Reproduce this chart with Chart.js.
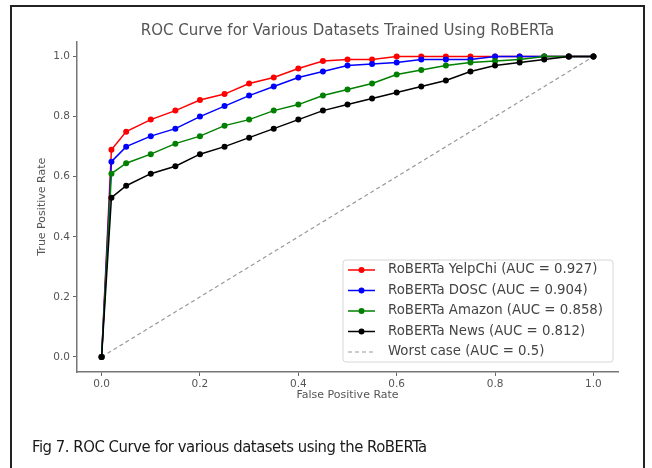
<!DOCTYPE html>
<html>
<head>
<meta charset="utf-8">
<title>ROC Curve</title>
<script src="https://cdn.jsdelivr.net/npm/chart.js@4.4.1/dist/chart.umd.min.js"></script>
<style>
  html, body { margin: 0; padding: 0; background: #fff; }
  #wrap { position: absolute; left: 0; top: 0; width: 652px; height: 468px; overflow: hidden; }
  #frame { position: absolute; left: 10px; top: 5px; width: 631px; height: 500px; border: 2px solid #222; }
  #holder { position: absolute; left: 0; top: 0; width: 652px; height: 468px; }
  #caption { position: absolute; left: 32px; top: 437px; font-family: "Liberation Sans Narrow", "DejaVu Sans Condensed", Roboto, sans-serif;
             font-size: 16.5px; letter-spacing: -0.45px; color: #1a1a1a; white-space: nowrap; }
</style>
</head>
<body>
<div id="wrap">
  <div id="frame"></div>
  <div id="holder"><canvas id="roc"></canvas></div>
  <div id="caption">Fig 7. ROC Curve for various datasets using the RoBERTa</div>
</div>
<script>
// false positive rate sample points (shared by all curves)
let fpr = [0, 0.02, 0.05, 0.1, 0.15, 0.2, 0.25, 0.3, 0.35, 0.4, 0.45, 0.5, 0.55, 0.6, 0.65, 0.7, 0.75, 0.8, 0.85, 0.9, 0.95, 1.0];

let tprYelpChi = [0, 0.69, 0.75, 0.79, 0.82, 0.855, 0.875, 0.91, 0.93, 0.96, 0.985, 0.99, 0.99, 1.0, 1.0, 1.0, 1.0, 1.0, 1.0, 1.0, 1.0, 1.0];
let tprDosc = [0, 0.65, 0.70, 0.735, 0.76, 0.80, 0.835, 0.87, 0.90, 0.93, 0.95, 0.97, 0.975, 0.98, 0.99, 0.99, 0.99, 1.0, 1.0, 1.0, 1.0, 1.0];
let tprAmazon = [0, 0.61, 0.645, 0.675, 0.71, 0.735, 0.77, 0.79, 0.82, 0.84, 0.87, 0.89, 0.91, 0.94, 0.955, 0.97, 0.98, 0.985, 0.99, 1.0, 1.0, 1.0];
let tprNews = [0, 0.53, 0.57, 0.61, 0.635, 0.675, 0.70, 0.73, 0.76, 0.79, 0.82, 0.84, 0.86, 0.88, 0.90, 0.92, 0.95, 0.97, 0.98, 0.99, 1.0, 1.0];

let worstX = [0, 1];
let worstY = [0, 1];

let seriesLabels = [
  'RoBERTa YelpChi (AUC = 0.927)',
  'RoBERTa DOSC (AUC = 0.904)',
  'RoBERTa Amazon (AUC = 0.858)',
  'RoBERTa News (AUC = 0.812)',
  'Worst case (AUC = 0.5)'
];

let tickValues = [0, 0.2, 0.4, 0.6, 0.8, 1.0];
let chartTitle = 'ROC Curve for Various Datasets Trained Using RoBERTa';

const toPoints = (xs, ys) => xs.map((x, i) => ({ x: x, y: ys[i] }));

function curve(label, data, color, order) {
  return {
    label: label,
    data: data,
    borderColor: color,
    backgroundColor: color,
    borderWidth: 1.5,
    pointRadius: 3,
    pointHoverRadius: 3,
    pointBorderWidth: 0,
    pointBackgroundColor: color,
    tension: 0,
    fill: false,
    order: order
  };
}

// title centred over the plot area, like matplotlib does it
const axesTitle = {
  id: 'axesTitle',
  afterDraw(chart) {
    const ctx = chart.ctx, area = chart.chartArea;
    ctx.save();
    ctx.font = '15px "DejaVu Sans"';
    ctx.fillStyle = '#555';
    ctx.textAlign = 'center';
    ctx.textBaseline = 'middle';
    ctx.fillText(chartTitle, (area.left + area.right) / 2, 31);
    ctx.restore();
  }
};

// legend drawn inside the plot, lower right
const insideLegend = {
  id: 'insideLegend',
  afterDraw(chart) {
    const ctx = chart.ctx, area = chart.chartArea;
    const w = 270, h = 102;
    const x0 = area.right - 5 - w, y0 = area.bottom - 10 - h;
    ctx.save();
    ctx.beginPath();
    ctx.roundRect(x0, y0, w, h, 3);
    ctx.fillStyle = 'rgba(255,255,255,0.85)';
    ctx.fill();
    ctx.strokeStyle = '#d6d6d6';
    ctx.lineWidth = 1;
    ctx.stroke();

    ctx.font = '13.3px "DejaVu Sans"';
    ctx.textBaseline = 'middle';
    chart.data.datasets.forEach((ds, i) => {
      const y = y0 + 10 + i * 20.5;
      ctx.strokeStyle = ds.borderColor;
      ctx.lineWidth = ds.borderWidth;
      ctx.setLineDash(ds.borderDash || []);
      ctx.beginPath();
      ctx.moveTo(x0 + 5, y);
      ctx.lineTo(x0 + 32, y);
      ctx.stroke();
      ctx.setLineDash([]);
      if (ds.pointRadius > 0) {
        ctx.beginPath();
        ctx.arc(x0 + 18.5, y, ds.pointRadius, 0, Math.PI * 2);
        ctx.fillStyle = ds.borderColor;
        ctx.fill();
      }
      ctx.fillStyle = '#444';
      ctx.fillText(ds.label, x0 + 45, y);
    });
    ctx.restore();
  }
};

let ctx = document.getElementById('roc').getContext('2d');
let rocChart = new Chart(ctx, {
  type: 'line',
  data: {
    datasets: [
      curve(seriesLabels[0], toPoints(fpr, tprYelpChi), '#ff0000', 3),
      curve(seriesLabels[1], toPoints(fpr, tprDosc), '#0000ff', 2),
      curve(seriesLabels[2], toPoints(fpr, tprAmazon), '#008000', 1),
      curve(seriesLabels[3], toPoints(fpr, tprNews), '#000000', 0),
      {
        label: seriesLabels[4],
        data: toPoints(worstX, worstY),
        borderColor: '#999999',
        borderWidth: 1.2,
        borderDash: [4, 3],
        pointRadius: 0,
        tension: 0,
        fill: false,
        order: 4
      }
    ]
  },
  options: {
    responsive: true,
    maintainAspectRatio: false,
    animation: false,
    layout: { padding: { top: 41.5, left: 28, right: 34, bottom: 60 } },
    plugins: {
      legend: { display: false },
      tooltip: { enabled: false },
      title: { display: false }
    },
    scales: {
      x: {
        type: 'linear',
        min: -0.05,
        max: 1.05,
        afterBuildTicks: (scale) => { scale.ticks = tickValues.map(v => ({ value: v })); },
        afterFit: (scale) => { scale.height = 36; },
        grid: { drawOnChartArea: false, drawTicks: true, tickLength: 4, color: '#666' },
        border: { display: true, color: '#777', width: 1.5 },
        ticks: {
          padding: 2,
          color: '#555',
          font: { family: 'DejaVu Sans', size: 10.5 },
          callback: (v) => v.toFixed(1)
        },
        title: {
          display: true,
          text: 'False Positive Rate',
          color: '#555',
          font: { family: 'DejaVu Sans', size: 11 },
          padding: { top: 0, bottom: 6.4 }
        }
      },
      y: {
        type: 'linear',
        min: -0.05,
        max: 1.05,
        afterBuildTicks: (scale) => { scale.ticks = tickValues.map(v => ({ value: v })); },
        afterFit: (scale) => { scale.width = 49; },
        grid: { drawOnChartArea: false, drawTicks: true, tickLength: 4, color: '#666' },
        border: { display: true, color: '#777', width: 1.5 },
        ticks: {
          padding: 3,
          color: '#555',
          font: { family: 'DejaVu Sans', size: 10.5 },
          callback: (v) => v.toFixed(1)
        },
        title: {
          display: true,
          text: 'True Positive Rate',
          color: '#555',
          font: { family: 'DejaVu Sans', size: 11 },
          padding: { top: 7.4, bottom: 0 }
        }
      }
    }
  },
  plugins: [axesTitle, insideLegend]
});
</script>
</body>
</html>
